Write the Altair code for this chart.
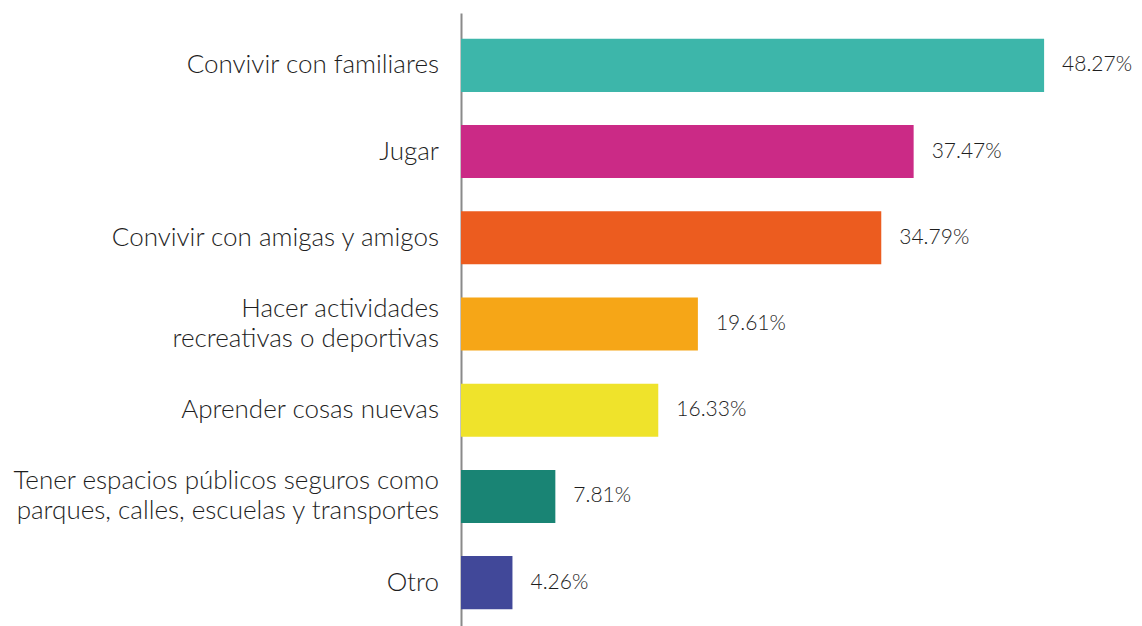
import altair as alt
import pandas as pd

categories = [
    "Convivir con familiares",
    "Jugar",
    "Convivir con amigas y amigos",
    "Hacer actividades\nrecreativas o deportivas",
    "Aprender cosas nuevas",
    "Tener espacios públicos seguros como\nparques, calles, escuelas y transportes",
    "Otro",
]
values = [48.27, 37.47, 34.79, 19.61, 16.33, 7.81, 4.26]
colors = ["#3db6aa", "#cb2a86", "#ec5c1f", "#f6a617", "#efe32b", "#198474", "#414899"]

df = pd.DataFrame({"cat": categories, "val": values, "color": colors})
df["label"] = df["val"].map(lambda v: f"{v:.2f}%")

FONT = "Lato"
LH = 30
HALF_BAND = 26.5

y = alt.Y(
    "cat:N",
    sort=categories,
    scale=alt.Scale(paddingInner=0.385, paddingOuter=0.30),
    axis=alt.Axis(
        title=None,
        ticks=False,
        labels=False,
        domainColor="#8a8a8a",
        domainWidth=2,
    ),
)
x = alt.X("val:Q", scale=alt.Scale(domain=[0, 50]), axis=None)

bars = alt.Chart(df).mark_bar().encode(
    x=x, y=y, color=alt.Color("color:N", scale=None)
)
text = alt.Chart(df).mark_text(
    align="left", baseline="middle", dx=18, font=FONT, fontSize=21,
    fontWeight=300, color="#1e1e1e"
).encode(x=x, y=y, text="label:N")

cat_labels = alt.Chart(df).transform_calculate(
    lines="split(datum.cat, '\\n')",
    off=f"{HALF_BAND} - (length(split(datum.cat, '\\n')) - 1) * {LH} / 2",
).mark_text(
    align="right", baseline="middle", font=FONT, fontSize=26,
    fontWeight=300, color="#1e1e1e", lineHeight=LH,
).encode(
    x=alt.value(-22),
    y=y,
    yOffset=alt.YOffset("off:Q", scale=None),
    text="lines:N",
)

chart = (bars + text + cat_labels).properties(
    width=604, height=622,
    autosize=alt.AutoSizeParams(type="none"),
    padding={"left": 453, "top": 5, "right": 69, "bottom": 0},
).configure_view(stroke=None)

chart.save("out.html", embed_options={"renderer": "svg", "actions": False})
